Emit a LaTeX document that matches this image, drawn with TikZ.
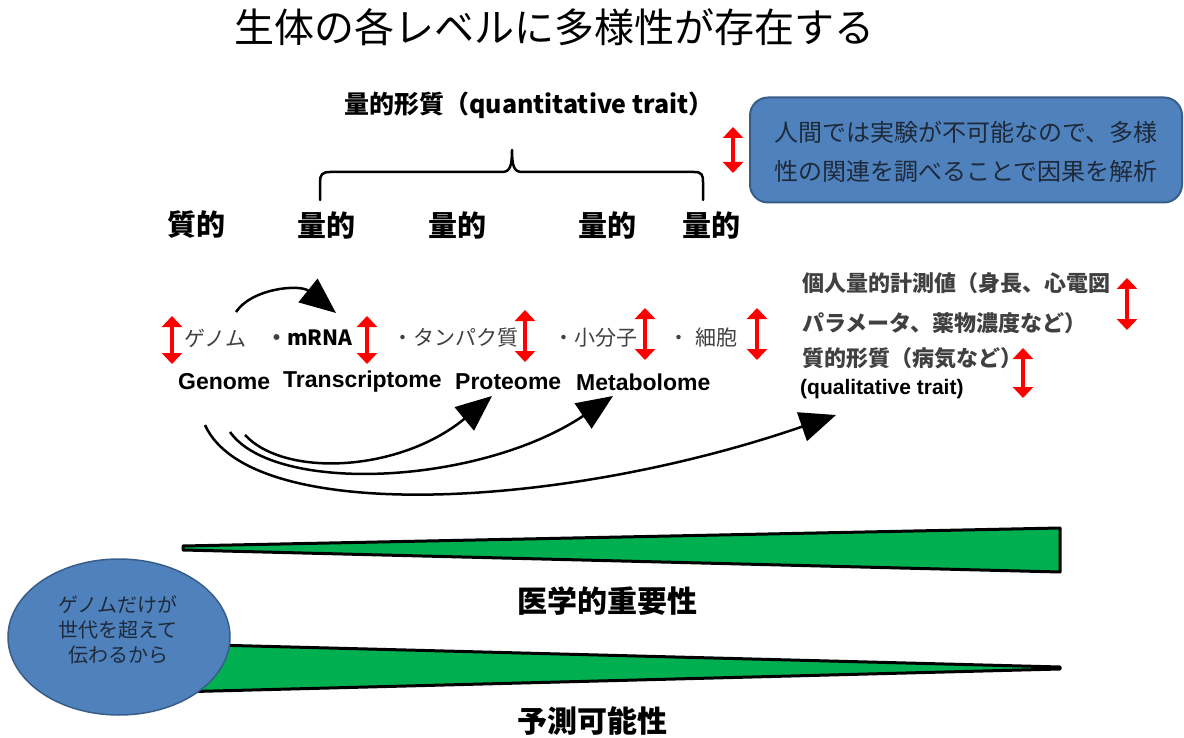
\documentclass[tikz,border=0pt]{standalone}
\usepackage{fontspec}
\newfontfamily\cjk{Noto Sans CJK JP}
\newfontfamily\lat{Liberation Sans}
\usetikzlibrary{arrows.meta,shapes.geometric}
\definecolor{boxblue}{HTML}{4F81BD}
\definecolor{boxedge}{HTML}{385D8A}
\definecolor{wgreen}{HTML}{00B050}
\definecolor{dgray}{HTML}{404040}
\definecolor{ltext}{HTML}{1E2A3A}
\tikzset{
  redarr/.style={draw=red, line width=3.8pt, {Triangle[length=11pt,width=20pt]}-{Triangle[length=11pt,width=20pt]}},
  bigarr/.style={draw=black, line width=2.5pt, -{Triangle[length=36pt,width=30pt]}},
  wedge/.style={draw=black, line width=3pt, fill=wgreen, line join=round},
  lvl/.style={font=\cjk\bfseries\fontsize{29}{32}\selectfont, text=black, inner sep=0pt},
  mol/.style={font=\cjk\fontsize{21}{24}\selectfont, text=dgray, inner sep=0pt, anchor=west},
  eng/.style={font=\lat\bfseries\fontsize{23}{26}\selectfont, text=black, inner sep=0pt, anchor=west},
  rtext/.style={font=\cjk\bfseries\fontsize{22}{26}\selectfont, text=dgray, inner sep=0pt, anchor=west},
  bigbold/.style={font=\cjk\bfseries\fontsize{30}{34}\selectfont, text=black, inner sep=0pt, anchor=west}
}
\begin{document}
\begin{tikzpicture}[x=1pt,y=-1pt]
\useasboundingbox (0,0) rectangle (1184,738);
% title
\node[font=\cjk\fontsize{40}{44}\selectfont, inner sep=0pt] (title) at (554,27) {生体の各レベルに多様性が存在する};
% quantitative trait label
\node[font=\cjk\bfseries\fontsize{25}{28}\selectfont, inner sep=0pt] (qt) at (529,105) {量的形質（quantitative trait）};
% brace
\draw[line width=2.5pt, line cap=round, line join=round] (320,200) -- (320,182) .. controls (320,175) and (322,172) .. (330,172) -- (502,172) .. controls (510,172) and (512,166) .. (512,150) .. controls (512,166) and (514,172) .. (522,172) -- (694,172) .. controls (702,172) and (703,175) .. (703,182) -- (703,200);
% level labels
\node[lvl] (l1) at (196,225) {質的};
\node[lvl] (l2) at (326,225) {量的};
\node[lvl] (l3) at (457,225) {量的};
\node[lvl] (l4) at (607,225) {量的};
\node[lvl] (l5) at (711,225) {量的};
% blue box
\node[draw=boxedge, fill=boxblue, rounded corners=18pt, line width=2pt, minimum width=432pt, minimum height=105pt, inner sep=0pt] (box) at (966,150) {};
\node[font=\cjk\fontsize{24}{39}\selectfont, text=ltext, align=left, anchor=west, inner sep=0pt] (boxt) at (774,152) {人間では実験が不可能なので、多様\\性の関連を調べることで因果を解析};
\coordinate (ba1) at (733,127);
\coordinate (ba2) at (733,173);
\draw[redarr] (ba1) -- (ba2);
% molecule row
\node[mol] (m1) at (184,338) {ゲノム};
\node[font=\cjk\bfseries\fontsize{21}{24}\selectfont, inner sep=0pt, anchor=west] (m2) at (266,338) {\textcolor{dgray}{・}mRNA};
\node[mol] (m3) at (392,338) {・タンパク質};
\node[mol] (m4) at (553,338) {・小分子};
\node[mol] (m5) at (668,338) {・\hspace{6pt}細胞};
\foreach \n/\x/\a/\b in {r1/172/316/364, r2/367/316/364, r3/525/310/362, r4/645/308/360, r5/757/308/360}{
  \coordinate (\n a) at (\x,\a);
  \coordinate (\n b) at (\x,\b);
  \draw[redarr] (\n a) -- (\n b);
}
% english row
\node[eng] (g) at (178,382) {Genome};
\node[eng] (t) at (283,382) {Transcriptome};
\node[eng] (p) at (455,382) {Proteome};
\node[eng] (mt) at (576,382) {Metabolome};
% right texts
\node[rtext] (q1) at (802,283) {個人量的計測値（身長、心電図};
\node[rtext] (q2) at (802,323) {パラメータ、薬物濃度など）};
\node[rtext] (q3) at (802,358) {質的形質（病気など）};
\node[font=\lat\bfseries\fontsize{21}{24}\selectfont, text=black, inner sep=0pt, anchor=west] (q4) at (800,389) {(qualitative trait)};
\coordinate (ra1) at (1127,278); \coordinate (ra2) at (1127,330);
\draw[redarr] (ra1) -- (ra2);
\coordinate (rb1) at (1023,348); \coordinate (rb2) at (1023,398);
\draw[redarr] (rb1) -- (rb2);
% curved arrows
\coordinate (s0) at (236,312); \coordinate (e0) at (336,313);
\draw[bigarr] (s0) .. controls (252,288) and (300,284) .. (e0);
\coordinate (s1) at (245,435); \coordinate (e1) at (492,396);
\draw[bigarr] (s1) .. controls (285,478) and (400,472) .. (e1);
\coordinate (s2) at (230,432); \coordinate (e2) at (613,396);
\draw[bigarr] (s2) .. controls (275,495) and (480,485) .. (e2);
\coordinate (s3) at (205,425); \coordinate (e3) at (836,415);
\draw[bigarr] (s3) .. controls (250,525) and (560,510) .. (e3);
% wedges
\draw[wedge] (183,546) -- (1060,528) -- (1060,572) -- (183,550) -- cycle;
\node[bigbold] (med) at (517,601) {医学的重要性};
\draw[wedge] (175,644) -- (1060,667) -- (1060,669) -- (175,692) -- cycle;
\node[bigbold] (pred) at (517,721) {予測可能性};
% ellipse
\node[ellipse, draw=boxedge, fill=boxblue, line width=1.5pt, minimum width=222pt, minimum height=156pt, inner sep=0pt] (ell) at (119,637) {};
\node[font=\cjk\fontsize{20}{25}\selectfont, text=ltext, align=center, inner sep=0pt] (ellt) at (118,630) {ゲノムだけが\\世代を超えて\\伝わるから};
\end{tikzpicture}
\end{document}
